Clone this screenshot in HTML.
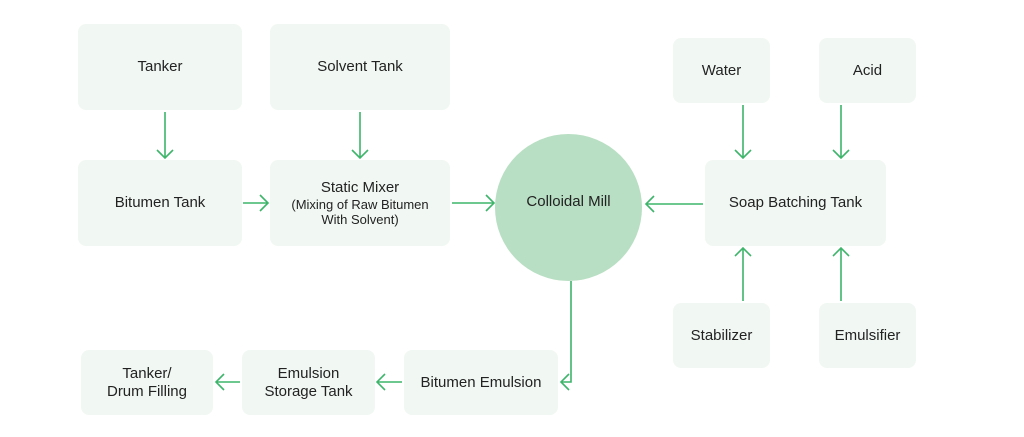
<!DOCTYPE html>
<html><head><style>
body{margin:0;width:1024px;height:437px;background:#fff;position:relative;overflow:hidden;font-family:"Liberation Sans",sans-serif;color:#222}
.b{position:absolute;background:#f1f8f3;border-radius:8px;display:flex;align-items:center;justify-content:center;text-align:center;font-size:15px;line-height:18px}
.c{position:absolute;left:495px;top:134px;width:147px;height:147px;border-radius:50%;background:#b8dfc3;display:flex;align-items:center;justify-content:center;font-size:15px;box-sizing:border-box;padding-bottom:12px}
svg{position:absolute;left:0;top:0}
</style></head><body>
<div class="b" style="left:78px;top:24px;width:164px;height:86px">Tanker</div>
<div class="b" style="left:270px;top:24px;width:180px;height:86px">Solvent Tank</div>
<div class="b" style="left:78px;top:160px;width:164px;height:86px">Bitumen Tank</div>
<div class="b" style="left:270px;top:160px;width:180px;height:86px;flex-direction:column"><span>Static Mixer</span><span style="font-size:13px;line-height:15px">(Mixing of Raw Bitumen<br>With Solvent)</span></div>
<div class="c">Colloidal Mill</div>
<div class="b" style="left:705px;top:160px;width:181px;height:86px">Soap Batching Tank</div>
<div class="b" style="left:673px;top:38px;width:97px;height:65px">Water</div>
<div class="b" style="left:819px;top:38px;width:97px;height:65px">Acid</div>
<div class="b" style="left:673px;top:303px;width:97px;height:65px">Stabilizer</div>
<div class="b" style="left:819px;top:303px;width:97px;height:65px">Emulsifier</div>
<div class="b" style="left:404px;top:350px;width:154px;height:65px">Bitumen Emulsion</div>
<div class="b" style="left:242px;top:350px;width:133px;height:65px">Emulsion<br>Storage Tank</div>
<div class="b" style="left:81px;top:350px;width:132px;height:65px">Tanker/<br>Drum Filling</div>
<svg width="1024" height="437" fill="none" stroke="#3db56a" stroke-width="1.6">
<path d="M165 112V158M157 150l8 8 8-8"/>
<path d="M360 112V158M352 150l8 8 8-8"/>
<path d="M743 105V158M735 150l8 8 8-8"/>
<path d="M841 105V158M833 150l8 8 8-8"/>
<path d="M743 301V248M735 256l8-8 8 8"/>
<path d="M841 301V248M833 256l8-8 8 8"/>
<path d="M243 203H268M260 195l8 8-8 8"/>
<path d="M452 203H494M486 195l8 8-8 8"/>
<path d="M703 204H646M654 196l-8 8 8 8"/>
<path d="M571 281V382H561M569 374l-8 8 8 8"/>
<path d="M402 382H377M385 374l-8 8 8 8"/>
<path d="M240 382H216M224 374l-8 8 8 8"/>
</svg>
</body></html>
